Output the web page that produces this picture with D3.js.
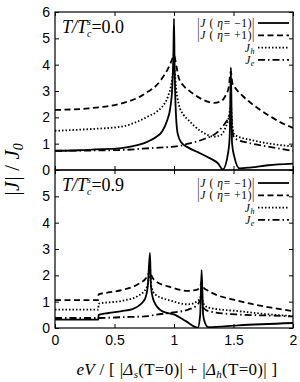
<!DOCTYPE html>
<html>
<head>
<meta charset="utf-8">
<script src="https://cdn.jsdelivr.net/npm/d3@7"></script>
<style>
  body { margin: 0; background: #fff; }
  svg { display: block; }
  .tick text { font-family: "Liberation Sans", Arial, sans-serif; font-size: 14px; fill: #000; }
  .serif { font-family: "Liberation Serif", "Times New Roman", serif; fill: #000; }
</style>
</head>
<body>
<div id="container"></div>
<script>
// ---- data ----
const xTicks = [0, 0.5, 1, 1.5, 2];
const xTickLabels = ["0", "0.5", "1", "1.5", "2"];
const yTicksTop = [0, 1, 2, 3, 4, 5, 6];
const yTicksBottom = [0, 1, 2, 3, 4, 5];
const temps = ["0.0", "0.9"];

// T/Tc = 0.0
const t00EtaMinus = [[0,0.73],[0.2,0.75],[0.4,0.79],[0.56,0.83],[0.7,0.95],[0.78,1.08],[0.85,1.25],[0.9,1.46],[0.94,1.85],[0.97,2.4],[0.985,3.1],[0.995,4.4],[1.0,5.75],[1.005,4.0],[1.012,2.6],[1.03,1.4],[1.06,1.05],[1.12,0.85],[1.2,0.68],[1.3,0.45],[1.37,0.25],[1.41,0.02],[1.454,0.63],[1.468,1.27],[1.478,3.9],[1.488,1.0],[1.51,0.45],[1.55,0.06],[1.65,0.1],[1.79,0.18],[2.0,0.24]];
const t00EtaPlus = [[0,2.28],[0.28,2.34],[0.56,2.53],[0.7,2.75],[0.78,2.97],[0.85,3.2],[0.9,3.48],[0.95,3.85],[0.98,4.15],[1.0,4.35],[1.02,3.95],[1.04,3.5],[1.08,3.2],[1.12,3.04],[1.23,2.7],[1.34,2.55],[1.4,2.62],[1.43,2.8],[1.46,3.15],[1.478,3.75],[1.49,3.3],[1.51,3.15],[1.58,2.8],[1.65,2.53],[1.79,2.09],[1.9,1.8],[2.0,1.6]];
const t00Jh = [[0,1.49],[0.28,1.55],[0.56,1.65],[0.7,1.85],[0.78,2.03],[0.85,2.2],[0.9,2.4],[0.95,2.8],[0.98,3.3],[1.0,3.9],[1.02,3.0],[1.04,2.5],[1.08,2.1],[1.12,1.9],[1.23,1.46],[1.34,1.27],[1.4,1.35],[1.43,1.58],[1.46,2.0],[1.478,2.45],[1.49,1.7],[1.51,1.33],[1.65,1.14],[1.79,1.01],[2.0,0.9]];
const t00Je = [[0,0.73],[0.3,0.74],[0.56,0.76],[0.8,0.83],[1.04,0.91],[1.12,1.0],[1.23,1.14],[1.37,1.46],[1.45,1.9],[1.478,2.1],[1.49,1.5],[1.51,1.2],[1.65,1.01],[1.79,0.89],[2.0,0.72]];

// T/Tc = 0.9
const t09EtaMinus = [[0,0.32],[0.364,0.32],[0.366,0.5],[0.45,0.57],[0.56,0.64],[0.65,0.72],[0.7,0.83],[0.74,1.0],[0.76,1.15],[0.78,1.6],[0.798,2.85],[0.806,1.6],[0.83,1.03],[0.9,0.64],[1.01,0.5],[1.1,0.26],[1.2,0.01],[1.22,0.5],[1.232,2.2],[1.245,0.5],[1.26,0.2],[1.29,0.03],[1.54,0.1],[2.0,0.19]];
const t09EtaPlus = [[0,1.06],[0.364,1.06],[0.366,1.28],[0.45,1.35],[0.56,1.44],[0.7,1.67],[0.77,1.92],[0.79,2.1],[0.8,2.2],[0.81,2.0],[0.84,1.8],[0.98,1.54],[1.12,1.41],[1.2,1.47],[1.225,1.65],[1.232,1.75],[1.245,1.55],[1.29,1.41],[1.54,1.03],[1.82,0.77],[2.0,0.64]];
const t09Jh = [[0,0.7],[0.364,0.7],[0.366,0.92],[0.56,1.03],[0.7,1.22],[0.77,1.54],[0.79,1.9],[0.8,2.1],[0.81,1.6],[0.84,1.28],[0.98,1.03],[1.12,0.9],[1.2,1.03],[1.225,1.2],[1.232,1.3],[1.245,0.95],[1.29,0.77],[1.54,0.64],[1.82,0.51],[2.0,0.45]];
const t09Je = [[0,0.38],[0.364,0.38],[0.56,0.41],[0.78,0.45],[0.84,0.5],[0.98,0.58],[1.12,0.7],[1.2,0.9],[1.232,1.1],[1.25,0.75],[1.29,0.64],[1.54,0.51],[1.82,0.47],[2.0,0.44]];

/**
 * CONSTANTS
 * */
const width = 300, height = 382;
const left = 55, right = 293, panelH = 158, top0 = 12;
const dashes = [null, "6,3.5", "1.5,2", "7,3,1.5,3"];

const svg = d3.select("#container").append("svg")
  .attr("width", width).attr("height", height);

const x = d3.scaleLinear().domain([0, 2]).range([left, right]);

const panels = [
  { temp: temps[0], top: top0, ticks: yTicksTop, series: [t00EtaMinus, t00EtaPlus, t00Jh, t00Je], legendTop: 23 },
  { temp: temps[1], top: top0 + panelH, ticks: yTicksBottom, series: [t09EtaMinus, t09EtaPlus, t09Jh, t09Je], legendTop: 183 }
];

panels.forEach((p, i) => {
  const y = d3.scaleLinear().domain([0, 6]).range([p.top + panelH, p.top]);
  const g = svg.append("g");

  g.append("clipPath").attr("id", "clip" + i)
    .append("rect").attr("x", left).attr("y", p.top).attr("width", right - left).attr("height", panelH);

  // axes, ticks pointing inwards
  g.append("g").attr("transform", `translate(${left},0)`)
    .call(d3.axisLeft(y).tickValues(p.ticks).tickSizeInner(-4).tickSizeOuter(0).tickPadding(5).tickFormat(d3.format("d")))
    .call(a => a.select(".domain").remove());
  g.append("g").attr("transform", `translate(${right},0)`)
    .call(d3.axisRight(y).tickValues(yTicksTop).tickSizeInner(-4).tickSizeOuter(0).tickFormat(""))
    .call(a => a.select(".domain").remove());
  g.append("g").attr("transform", `translate(0,${p.top + panelH})`)
    .call(d3.axisBottom(x).tickValues(xTicks).tickSizeInner(-4).tickSizeOuter(0).tickPadding(7)
      .tickFormat((d, k) => i === 1 ? xTickLabels[k] : ""))
    .call(a => a.select(".domain").remove());
  g.append("g").attr("transform", `translate(0,${p.top})`)
    .call(d3.axisTop(x).tickValues(xTicks).tickSizeInner(-4).tickSizeOuter(0).tickFormat(""))
    .call(a => a.select(".domain").remove());

  g.append("rect").attr("x", left).attr("y", p.top).attr("width", right - left).attr("height", panelH)
    .attr("fill", "none").attr("stroke", "#000").attr("stroke-width", 1.2);

  const line = d3.line().x(d => x(d[0])).y(d => y(d[1])).curve(d3.curveMonotoneX);
  g.append("g").attr("clip-path", `url(#clip${i})`)
    .selectAll("path").data(p.series).join("path")
    .attr("d", line)
    .attr("fill", "none").attr("stroke", "#000").attr("stroke-width", 1.8)
    .attr("stroke-dasharray", (d, k) => dashes[k]);

  // panel label T/T^s_c = ...
  const lab = g.append("text").attr("class", "serif").attr("x", 62).attr("y", p.top + 21).attr("font-size", 18);
  lab.append("tspan").attr("font-style", "italic").text("T/T");
  lab.append("tspan").attr("font-style", "italic").attr("font-size", 10).attr("dy", -8).text("s");
  lab.append("tspan").attr("font-style", "italic").attr("font-size", 10).attr("dx", -4).attr("dy", 12).text("c");
  lab.append("tspan").attr("dy", -4).text("=" + p.temp);

  // legend
  const leg = g.append("g");
  [0, 1, 2, 3].forEach(k => {
    const ly = p.legendTop + k * 12.3;
    leg.append("line").attr("x1", 258).attr("x2", 289).attr("y1", ly).attr("y2", ly)
      .attr("stroke", "#000").attr("stroke-width", 1.8).attr("stroke-dasharray", dashes[k]);
    const t = leg.append("text").attr("class", "serif").attr("x", 255).attr("y", ly + 4)
      .attr("text-anchor", "end").attr("font-size", 11.5).attr("letter-spacing", 0.6);
    if (k < 2) {
      t.append("tspan").text("|");
      t.append("tspan").attr("font-style", "italic").text("J");
      t.append("tspan").text(" ( ");
      t.append("tspan").attr("font-family", "Liberation Serif").attr("font-style", "italic").text("η");
      t.append("tspan").text(k === 0 ? "= −1)|" : "= +1)|");
    } else {
      t.append("tspan").attr("font-style", "italic").text("J");
      t.append("tspan").attr("font-style", "italic").attr("font-size", 8).attr("dy", 2.5).text(k === 2 ? "h" : "e");
    }
  });
});

// y axis label
const yl = svg.append("text").attr("class", "serif")
  .attr("transform", "translate(19,170) rotate(-90)").attr("text-anchor", "middle").attr("font-size", 21);
yl.append("tspan").attr("font-style", "italic").text("|J|");
yl.append("tspan").text("  /  ");
yl.append("tspan").attr("font-style", "italic").text("J");
yl.append("tspan").attr("font-style", "italic").attr("font-size", 14).attr("dy", 4).text("0");

// x axis label
const xl = svg.append("text").attr("class", "serif")
  .attr("x", 177).attr("y", 375).attr("text-anchor", "middle").attr("font-size", 17).attr("letter-spacing", 0.3);
xl.append("tspan").attr("font-style", "italic").text("eV");
xl.append("tspan").text(" / [ |");
xl.append("tspan").attr("font-style", "italic").text("Δ");
xl.append("tspan").attr("font-style", "italic").attr("font-size", 11).attr("dy", 3).text("s");
xl.append("tspan").attr("dy", -3).text("(T=0)| + |");
xl.append("tspan").attr("font-style", "italic").text("Δ");
xl.append("tspan").attr("font-style", "italic").attr("font-size", 11).attr("dy", 3).text("h");
xl.append("tspan").attr("dy", -3).text("(T=0)| ]");
</script>
</body>
</html>
